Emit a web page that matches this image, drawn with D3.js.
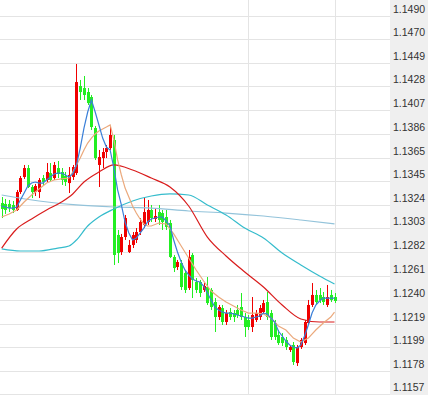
<!DOCTYPE html>
<html>
<head>
<meta charset="utf-8">
<script src="https://cdn.jsdelivr.net/npm/d3@7"></script>
<style>
  body { margin: 0; background: #fff; }
  svg { display: block; font-family: "Liberation Sans", Arial, sans-serif; }
</style>
</head>
<body>
<div id="chart"></div>
<script>
// candle data, one entry per bar (oldest first)
var opens = [1.13254,1.13246,1.13246,1.13237,1.13193,1.13351,1.13483,1.13562,1.13395,1.13351,
  1.13351,1.13474,1.13457,1.13518,1.13474,1.13562,1.13527,1.13492,1.13430,1.13483,
  1.13518,1.14284,1.14266,1.14231,1.14187,1.13914,1.13589,1.13650,1.13703,1.13738,
  1.13809,1.12973,1.12823,1.12955,1.12823,1.12885,1.12929,1.12999,1.13061,1.13087,
  1.13193,1.13114,1.13175,1.13166,1.13131,1.13078,1.12779,1.12691,1.12726,1.12638,
  1.12506,1.12797,1.12559,1.12559,1.12489,1.12515,1.12489,1.12383,1.12251,1.12330,
  1.12207,1.12295,1.12286,1.12313,1.12339,1.12251,1.12225,1.12163,1.12225,1.12251,
  1.12295,1.12383,1.12286,1.12198,1.12093,1.12075,1.12049,1.11961,1.12005,1.11846,
  1.11987,1.12022,1.12198,1.12357,1.12445,1.12445,1.12427,1.12357,1.12445,1.12427];
var closes = [1.13202,1.13193,1.13210,1.13193,1.13351,1.13474,1.13562,1.13395,1.13351,1.13404,
  1.13457,1.13439,1.13527,1.13457,1.13589,1.13510,1.13457,1.13439,1.13501,1.13571,
  1.14319,1.14231,1.14205,1.14134,1.13923,1.13650,1.13659,1.13703,1.13738,1.13853,
  1.12797,1.12814,1.12955,1.13122,1.12885,1.12973,1.12999,1.13087,1.13175,1.13193,
  1.13122,1.13140,1.13105,1.13087,1.13043,1.12779,1.12682,1.12735,1.12515,1.12489,
  1.12779,1.12577,1.12489,1.12462,1.12524,1.12374,1.12339,1.12251,1.12339,1.12207,
  1.12286,1.12251,1.12251,1.12269,1.12251,1.12163,1.12163,1.12269,1.12286,1.12330,
  1.12374,1.12251,1.12075,1.12075,1.12022,1.12022,1.11987,1.11987,1.11855,1.11987,
  1.12049,1.12207,1.12357,1.12445,1.12383,1.12401,1.12383,1.12427,1.12401,1.12392];
var highs = [1.13307,1.13290,1.13281,1.13272,1.13369,1.13492,1.13589,1.13589,1.13413,1.13422,
  1.13474,1.13501,1.13606,1.13606,1.13615,1.13624,1.13562,1.13527,1.13571,1.13589,
  1.14478,1.14337,1.14372,1.14266,1.14205,1.13932,1.13721,1.13738,1.13765,1.13923,
  1.13853,1.13017,1.12982,1.13149,1.12929,1.12999,1.13034,1.13122,1.13307,1.13281,
  1.13237,1.13210,1.13237,1.13193,1.13193,1.13105,1.12797,1.12753,1.12753,1.12665,
  1.12841,1.12814,1.12594,1.12577,1.12550,1.12603,1.12506,1.12418,1.12357,1.12357,
  1.12313,1.12330,1.12313,1.12357,1.12462,1.12286,1.12269,1.12427,1.12313,1.12357,
  1.12401,1.12471,1.12313,1.12225,1.12137,1.12110,1.12075,1.12005,1.12031,1.12005,
  1.12066,1.12225,1.12401,1.12550,1.12489,1.12506,1.12471,1.12533,1.12489,1.12462];
var lows = [1.13122,1.13158,1.13175,1.13166,1.13184,1.13334,1.13466,1.13386,1.13298,1.13316,
  1.13298,1.13413,1.13439,1.13439,1.13457,1.13474,1.13413,1.13404,1.13342,1.13457,
  1.13501,1.14161,1.14161,1.14117,1.13897,1.13633,1.13395,1.13562,1.13650,1.13721,
  1.12709,1.12726,1.12797,1.12929,1.12814,1.12858,1.12902,1.12973,1.13034,1.13061,
  1.13087,1.13087,1.13061,1.13017,1.13017,1.12770,1.12647,1.12665,1.12489,1.12462,
  1.12489,1.12418,1.12462,1.12427,1.12471,1.12357,1.12313,1.12119,1.12225,1.12181,
  1.12181,1.12225,1.12207,1.12242,1.12225,1.12075,1.12137,1.12119,1.12207,1.12225,
  1.12278,1.12225,1.12049,1.12049,1.12005,1.11996,1.11961,1.11943,1.11829,1.11820,
  1.11970,1.12005,1.12181,1.12339,1.12357,1.12374,1.12357,1.12339,1.12383,1.12374];

// moving averages, [bar index, value]
var ma5 = [1.13228,1.13219,1.13210,1.13210,1.13219,1.13281,1.13342,1.13404,1.13430,1.13439,
  1.13430,1.13430,1.13457,1.13483,1.13510,1.13518,1.13518,1.13501,1.13483,1.13510,
  1.13589,1.13738,1.13914,1.14055,1.14161,1.14055,1.13941,1.13826,1.13747,1.13721,
  1.13562,1.13369,1.13237,1.13087,1.12990,1.12929,1.12946,1.12990,1.13034,1.13087,
  1.13114,1.13122,1.13131,1.13131,1.13096,1.13052,1.12929,1.12823,1.12735,1.12665,
  1.12621,1.12586,1.12568,1.12559,1.12524,1.12462,1.12401,1.12339,1.12313,1.12295,
  1.12286,1.12286,1.12278,1.12269,1.12260,1.12251,1.12242,1.12242,1.12251,1.12260,
  1.12286,1.12278,1.12242,1.12207,1.12128,1.12084,1.12040,1.12005,1.11987,1.11978,
  1.12005,1.12084,1.12181,1.12286,1.12357,1.12392,1.12418,1.12418,1.12418,1.12418];
var ma10 = [[0,1.13131],[2,1.13158],[4,1.13193],[6,1.13263],[8,1.13325],[10,1.13378],
  [12,1.13430],[14,1.13457],[16,1.13466],[18,1.13474],[19,1.13527],[20,1.13589],
  [21,1.13650],[22,1.13721],[23,1.13782],[24,1.13826],[25,1.13862],[26,1.13888],
  [27,1.13906],[28,1.13923],[29,1.13941],[30,1.13809],[31,1.13633],[32,1.13501],
  [33,1.13386],[34,1.13307],[35,1.13228],[36,1.13166],[37,1.13114],[38,1.13070],
  [39,1.13052],[40,1.13052],[42,1.13078],[44,1.13070],[46,1.12982],[48,1.12876],
  [50,1.12770],[52,1.12665],[54,1.12568],[56,1.12480],[58,1.12427],[60,1.12383],
  [62,1.12348],[64,1.12313],[66,1.12286],[68,1.12286],[70,1.12278],[72,1.12242],
  [74,1.12172],[76,1.12137],[78,1.12066],[80,1.12031],[82,1.12066],[84,1.12137],
  [86,1.12198],[88,1.12251],[89,1.12295]];
var ma20 = [[0,1.12858],[4,1.13026],[8,1.13114],[12,1.13193],[16,1.13263],[19,1.13334],
  [22,1.13439],[26,1.13527],[30,1.13589],[35,1.13545],[40,1.13474],[45,1.13395],
  [50,1.13228],[55,1.12955],[60,1.12788],[65,1.12647],[70,1.12515],[75,1.12357],
  [80,1.12234],[85,1.12207],[89,1.12207]];
var ma60 = [[0,1.12850],[5,1.12832],[10,1.12832],[15,1.12858],[18,1.12876],[20,1.12929],
  [23,1.13052],[26,1.13131],[30,1.13202],[35,1.13272],[40,1.13316],[45,1.13334],
  [50,1.13325],[55,1.13237],[60,1.13149],[65,1.13034],[70,1.12946],[75,1.12814],
  [80,1.12709],[85,1.12612],[89,1.12542]];
var ma120 = [[0,1.13325],[10,1.13272],[20,1.13237],[30,1.13219],[40,1.13210],
  [50,1.13184],[60,1.13166],[70,1.13140],[80,1.13105],[89,1.13070]];

var tickLabels = ["1.1490","1.1470","1.1449","1.1428","1.1407","1.1386","1.1365","1.1345",
  "1.1324","1.1303","1.1282","1.1261","1.1240","1.1219","1.1199","1.1178","1.1157"];
var dayBreaks = [66, 89];

var width = 428, height = 395, plotRight = 390;

var svg = d3.select("#chart").append("svg")
  .attr("width", width)
  .attr("height", height);

var x = d3.scaleLinear().domain([0, opens.length - 1]).range([1.7, 334.5]);
var y = d3.scaleLinear().domain([1.1157, 1.1490]).range([394.4, 16]);

function crisp(v) { return Math.round(v) + 0.5; }

// grid
svg.append("g").attr("class", "grid")
  .selectAll("line")
  .data(tickLabels)
  .enter().append("line")
    .attr("x1", 0).attr("x2", plotRight)
    .attr("y1", function(d) { return crisp(y(+d)); })
    .attr("y2", function(d) { return crisp(y(+d)); })
    .attr("stroke", "#e4e4e4");

svg.append("g")
  .selectAll("line")
  .data(dayBreaks)
  .enter().append("line")
    .attr("x1", function(d) { return crisp(x(d)); })
    .attr("x2", function(d) { return crisp(x(d)); })
    .attr("y1", 0).attr("y2", height)
    .attr("stroke", "#e4e4e4");

// right axis panel
svg.append("rect")
  .attr("x", plotRight).attr("y", 0)
  .attr("width", width - plotRight).attr("height", height)
  .attr("fill", "#efefef");

svg.append("g")
  .selectAll("text")
  .data(tickLabels)
  .enter().append("text")
    .attr("x", 393)
    .attr("y", function(d) { return y(+d) - 3; })
    .attr("font-size", "10.5px")
    .attr("fill", "#333")
    .text(function(d) { return d; });

// candles
var bars = d3.range(opens.length);
var upCol = "#f00000", downCol = "#22ee22";

var candle = svg.append("g").selectAll("g")
  .data(bars)
  .enter().append("g");

candle.append("line")
  .attr("x1", function(i) { return crisp(x(i)); })
  .attr("x2", function(i) { return crisp(x(i)); })
  .attr("y1", function(i) { return y(highs[i]); })
  .attr("y2", function(i) { return y(lows[i]); })
  .attr("stroke", function(i) { return closes[i] >= opens[i] ? upCol : downCol; });

candle.append("rect")
  .attr("x", function(i) { return Math.round(x(i)) - 1; })
  .attr("width", 3)
  .attr("y", function(i) { return y(Math.max(opens[i], closes[i])); })
  .attr("height", function(i) { return Math.max(1, Math.abs(y(opens[i]) - y(closes[i]))); })
  .attr("fill", function(i) { return closes[i] >= opens[i] ? upCol : downCol; });

// moving averages
var line = d3.line()
  .x(function(d) { return x(d[0]); })
  .y(function(d) { return y(d[1]); });
var smooth = d3.line()
  .curve(d3.curveMonotoneX)
  .x(function(d) { return x(d[0]); })
  .y(function(d) { return y(d[1]); });

svg.append("path").datum(ma120).attr("d", smooth)
  .attr("fill", "none").attr("stroke", "#93c3da").attr("stroke-width", 1.2);
svg.append("path").datum(ma60).attr("d", smooth)
  .attr("fill", "none").attr("stroke", "#35bccc").attr("stroke-width", 1.2);
svg.append("path").datum(ma20).attr("d", smooth)
  .attr("fill", "none").attr("stroke", "#d91c1c").attr("stroke-width", 1.2);
svg.append("path").datum(ma10).attr("d", line)
  .attr("fill", "none").attr("stroke", "#eba97c").attr("stroke-width", 1.2);
svg.append("path").datum(ma5.map(function(v, i) { return [i, v]; })).attr("d", line)
  .attr("fill", "none").attr("stroke", "#3a7fd8").attr("stroke-width", 1.2);
</script>
</body>
</html>
